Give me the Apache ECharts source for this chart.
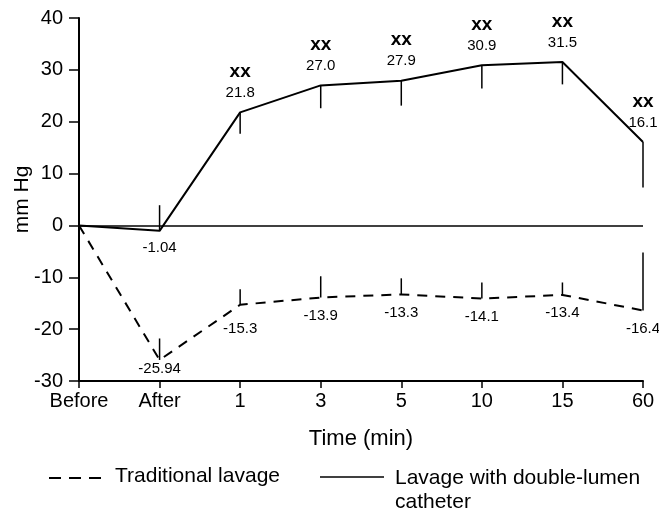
<!DOCTYPE html>
<html>
<head>
<meta charset="utf-8">
<script src="https://cdn.jsdelivr.net/npm/echarts@6/dist/echarts.min.js"></script>
<style>
  html, body { margin: 0; padding: 0; background: #fff; }
  #main { width: 659px; height: 513px; }
</style>
</head>
<body>
<div id="main"></div>
<script>
var categories = ['Before', 'After', '1', '3', '5', '10', '15', '60']
// lavage with double-lumen catheter (solid)
var doubleLumen = [0, -1.04, 21.8, 27.0, 27.9, 30.9, 31.5, 16.1]
var doubleLumenErr = [null, 3.9, 17.7, 22.6, 23.1, 26.4, 27.2, 7.3]
var doubleLumenMark = ['', '', 'xx', 'xx', 'xx', 'xx', 'xx', 'xx']
// traditional lavage (dashed)
var traditional = [0, -25.94, -15.3, -13.9, -13.3, -14.1, -13.4, -16.4]
var traditionalErr = [null, -21.8, -12.3, -9.8, -10.2, -11.0, -11.0, -5.2]

var FONT = '"Liberation Sans", Arial, Helvetica, sans-serif'

function errData(vals, ends) {
  var out = []
  for (var i = 0; i < vals.length; i++) {
    if (ends[i] !== null) out.push([i, vals[i], ends[i]])
  }
  return out
}

function renderErr(params, api) {
  var p1 = api.coord([api.value(0), api.value(1)])
  var p2 = api.coord([api.value(0), api.value(2)])
  return {
    type: 'line',
    shape: { x1: p1[0], y1: p1[1], x2: p2[0], y2: p2[1] },
    style: { stroke: '#000', lineWidth: 1.5 }
  }
}

function main() {
  var myChart = echarts.init(document.getElementById('main'))

  var solidData = doubleLumen.map(function (v, i) {
    var item = { value: v }
    if (i === 0) item.label = { show: false }
    if (i === 1) item.label = { position: 'bottom', distance: 8, formatter: '{v|-1.04}' }
    return item
  })
  var dashData = traditional.map(function (v, i) {
    var item = { value: v }
    if (i === 0) item.label = { show: false }
    if (i === 1) item.label = { distance: 1 }
    if (i === 2) item.label = { distance: 16 }
    return item
  })

  var option = {
    animation: false,
    textStyle: { fontFamily: FONT, color: '#000' },
    grid: { left: 79, right: 16, top: 18, bottom: 132, containLabel: false, outerBoundsMode: 'none' },
    xAxis: {
      type: 'category',
      data: categories,
      boundaryGap: false,
      name: 'Time (min)',
      nameLocation: 'middle',
      nameGap: 47,
      nameTextStyle: { fontSize: 22, color: '#000', fontFamily: FONT },
      axisLine: { onZero: false, lineStyle: { color: '#000', width: 2 } },
      axisTick: { length: 7, lineStyle: { color: '#000', width: 1.5 } },
      axisLabel: { fontSize: 20, color: '#000', margin: 10, fontFamily: FONT }
    },
    yAxis: {
      type: 'value',
      min: -30,
      max: 40,
      interval: 10,
      name: 'mm Hg',
      nameLocation: 'middle',
      nameGap: 46,
      nameMoveOverlap: false,
      nameRotate: 90,
      nameTextStyle: { fontSize: 21, color: '#000', fontFamily: FONT },
      axisLine: { show: true, lineStyle: { color: '#000', width: 2 } },
      axisTick: { show: true, length: 10, lineStyle: { color: '#000', width: 1.5 } },
      axisLabel: { fontSize: 20, color: '#000', margin: 16, fontFamily: FONT },
      splitLine: { show: false }
    },
    series: [
      {
        name: 'Lavage with double-lumen catheter',
        type: 'line',
        data: solidData,
        symbol: 'circle',
        symbolSize: 1,
        showSymbol: true,
        itemStyle: { color: 'rgba(0,0,0,0)' },
        lineStyle: { color: '#000', width: 2 },
        label: {
          show: true,
          position: 'top',
          distance: 10,
          formatter: function (p) {
            return '{x|' + doubleLumenMark[p.dataIndex] + '}\n{v|' + p.value.toFixed(1) + '}'
          },
          rich: {
            x: { fontSize: 19, fontWeight: 'bold', lineHeight: 24, fontFamily: FONT, color: '#000' },
            v: { fontSize: 15, lineHeight: 18, fontFamily: FONT, color: '#000' }
          }
        },
        markLine: {
          silent: true,
          symbol: 'none',
          label: { show: false },
          lineStyle: { color: '#000', width: 1.5, type: 'solid' },
          data: [{ yAxis: 0 }]
        },
        z: 3
      },
      {
        name: 'Traditional lavage',
        type: 'line',
        data: dashData,
        symbol: 'circle',
        symbolSize: 1,
        showSymbol: true,
        itemStyle: { color: 'rgba(0,0,0,0)' },
        lineStyle: { color: '#000', width: 2, type: [10, 8] },
        label: {
          show: true,
          position: 'bottom',
          distance: 10,
          fontSize: 15,
          fontFamily: FONT,
          color: '#000',
          formatter: function (p) { return String(p.value) }
        },
        z: 3
      },
      {
        type: 'custom',
        data: errData(doubleLumen, doubleLumenErr),
        renderItem: renderErr,
        silent: true,
        z: 2
      },
      {
        type: 'custom',
        data: errData(traditional, traditionalErr),
        renderItem: renderErr,
        silent: true,
        z: 2
      }
    ],
    graphic: [
      { type: 'line', shape: { x1: 49, y1: 478, x2: 104, y2: 478 }, style: { stroke: '#000', lineWidth: 2, lineDash: [12, 8] } },
      { type: 'text', left: 115, top: 466, style: { text: 'Traditional lavage', fontSize: 21, fontFamily: FONT, fill: '#000' } },
      { type: 'line', shape: { x1: 320, y1: 477, x2: 384, y2: 477 }, style: { stroke: '#000', lineWidth: 1.5 } },
      { type: 'text', left: 395, top: 466, style: { text: 'Lavage with double-lumen\ncatheter', fontSize: 21, lineHeight: 24, fontFamily: FONT, fill: '#000' } }
    ]
  }
  myChart.setOption(option)
}

window.onload = main
</script>
</body>
</html>
